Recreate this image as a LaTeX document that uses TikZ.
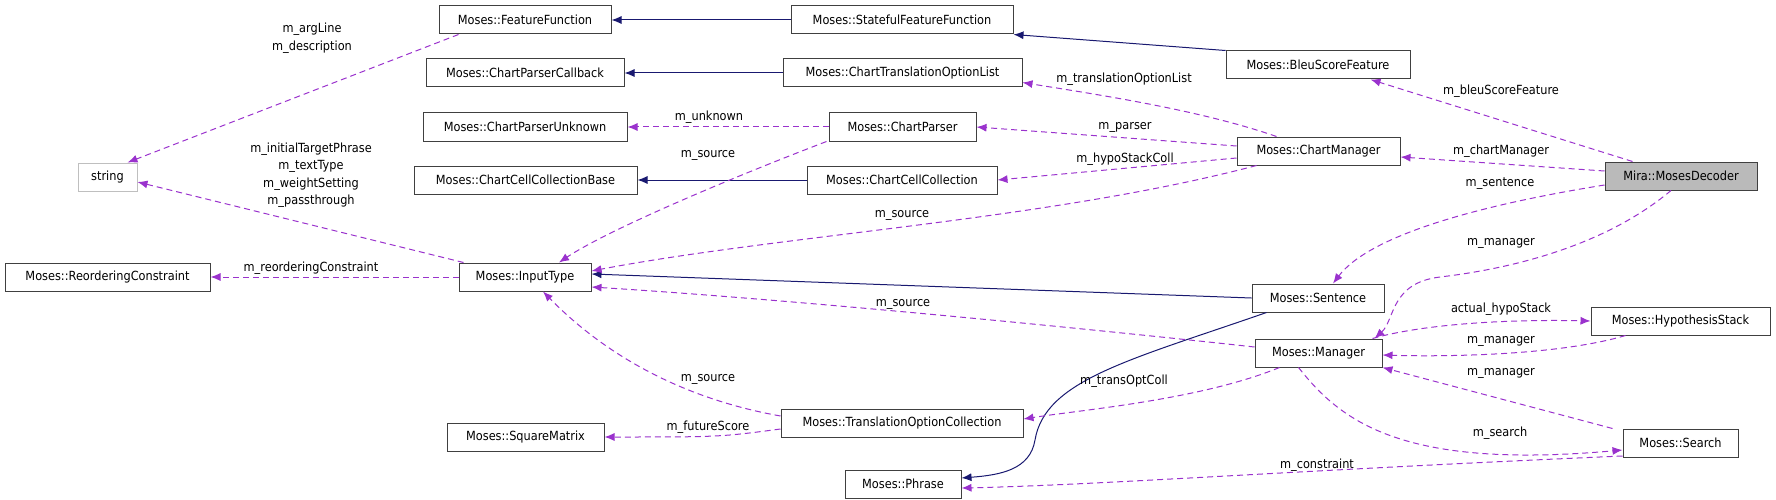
\documentclass[tikz,border=0pt]{standalone}
\usepackage{fontspec}
\setmainfont{DejaVu Sans}[FakeStretch=0.9]
\usetikzlibrary{arrows.meta,calc}
\definecolor{dep}{HTML}{9A32CD}
\definecolor{inh}{HTML}{191970}
\begin{document}
\begin{tikzpicture}[x=1pt,y=-1pt,
  box/.style={draw=black!75,line width=1pt,rectangle,inner sep=0pt,minimum height=28pt,font=\fontsize{12.6}{13}\selectfont},
  dep/.style={draw=dep,dashed,dash pattern=on 6pt off 4pt,line width=1pt,-{Latex[length=10pt,width=8pt]}},
  inh/.style={draw=inh,line width=1pt,-{Latex[length=10pt,width=8pt]}},
  lbl/.style={font=\fontsize{12.6}{17.5}\selectfont,align=center,inner sep=0pt}]
\useasboundingbox (0,0) rectangle (1776,500);
\newcommand{\bx}[5]{\node[box,minimum width=#4-#3] (#1) at ({(#3+#4)/2},#5) {#2};}
\bx{ff}{Moses::FeatureFunction}{439}{611}{20}
\bx{sff}{Moses::StatefulFeatureFunction}{791}{1013}{20}
\bx{cpc}{Moses::ChartParserCallback}{426}{624}{73}
\bx{ctol}{Moses::ChartTranslationOptionList}{783}{1022}{73}
\bx{cpu}{Moses::ChartParserUnknown}{423}{627}{127}
\bx{cp}{Moses::ChartParser}{829}{976}{127}
\bx{cccb}{Moses::ChartCellCollectionBase}{414}{637}{180}
\bx{ccc}{Moses::ChartCellCollection}{807}{997}{180}
\bx{bleu}{Moses::BleuScoreFeature}{1226}{1410}{65}
\bx{cm}{Moses::ChartManager}{1237}{1400}{151}
\node[box,draw=black!25,minimum width=59pt] (str) at (107.5,177) {string};
\bx{rc}{Moses::ReorderingConstraint}{5}{210}{277}
\bx{it}{Moses::InputType}{459}{591}{277}
\bx{sm}{Moses::SquareMatrix}{447}{604}{437}
\bx{toc}{Moses::TranslationOptionCollection}{781}{1023}{423}
\bx{sen}{Moses::Sentence}{1252}{1384}{298}
\bx{man}{Moses::Manager}{1255}{1382}{353}
\bx{hs}{Moses::HypothesisStack}{1591}{1770}{321}
\bx{se}{Moses::Search}{1623}{1738}{443}
\bx{ph}{Moses::Phrase}{845}{961}{484}
\node[box,fill=black!27,minimum width=152pt] (dec) at (1681,176) {Mira::MosesDecoder};

% inheritance
\draw[inh] (sff) -- (ff);
\draw[inh] (bleu.north west) -- (sff.south east);
\draw[inh] (ctol) -- (cpc);
\draw[inh] (ccc) -- (cccb);
\draw[inh] (sen.west) -- ($(it.east)+(0,-3)$);
\draw[inh] ($(sen.south west)+(15,0)$) .. controls (1130,360) and (1045,380) .. (1035,440) .. controls (1030,470) and (1000,475) .. ($(ph.east)+(0,-6)$);

% dependencies
\draw[dep] ($(ff.south west)+(20,0)$) -- ($(str.north east)+(-10,0)$);
\node[lbl] at (312,38) {m\_argLine\\m\_description};
\draw[dep] ($(it.north west)+(5,0)$) -- ($(str.east)+(0,5)$);
\node[lbl] at (311,175) {m\_initialTargetPhrase\\m\_textType\\m\_weightSetting\\m\_passthrough};
\draw[dep] (it) -- (rc);
\node[lbl] at (311,268) {m\_reorderingConstraint};
\draw[dep] (cp) -- (cpu);
\node[lbl] at (709,117) {m\_unknown};
\draw[dep] ($(cp.south west)+(-2,0)$) .. controls (700,190) and (600,235) .. ($(it.north)+(34,0)$);
\node[lbl] at (708,155) {m\_source};
\draw[dep] ($(cm.north west)+(40,0)$) .. controls (1200,110) and (1100,95) .. ($(ctol.south east)+(0,-5)$);
\node[lbl] at (1124,79) {m\_translationOptionList};
\draw[dep] ($(cm.west)+(0,-5)$) -- (cp.east);
\node[lbl] at (1125,127) {m\_parser};
\draw[dep] ($(cm.west)+(0,7)$) -- (ccc.east);
\node[lbl] at (1125,159) {m\_hypoStackColl};
\draw[dep] ($(cm.south west)+(20,0)$) .. controls (1050,220) and (780,235) .. ($(it.east)+(0,-6)$);
\node[lbl] at (902,215) {m\_source};
\draw[dep] ($(dec.north west)+(28,0)$) -- ($(bleu.south east)+(-40,0)$);
\node[lbl] at (1501,91) {m\_bleuScoreFeature};
\draw[dep] ($(dec.west)+(0,-5)$) -- ($(cm.east)+(0,6)$);
\node[lbl] at (1501,151) {m\_chartManager};
\draw[dep] ($(dec.west)+(0,9)$) .. controls (1480,205) and (1370,235) .. ($(sen.north)+(15,0)$);
\node[lbl] at (1500,184) {m\_sentence};
\draw[dep] ($(dec.south)+(-10,0)$) .. controls (1600,250) and (1500,270) .. (1440,277) .. controls (1390,283) and (1395,320) .. ($(man.north east)+(-8,0)$);
\node[lbl] at (1501,243) {m\_manager};
\draw[dep] ($(man.west)+(0,-6)$) .. controls (1100,330) and (800,300) .. ($(it.east)+(0,10)$);
\node[lbl] at (903,304) {m\_source};
\draw[dep] ($(man.north east)+(-10,0)$) .. controls (1420,325) and (1500,319) .. (hs.west);
\node[lbl] at (1501,309) {actual\_hypoStack};
\draw[dep] ($(hs.south west)+(35,0)$) .. controls (1560,355) and (1450,357) .. ($(man.east)+(0,2)$);
\node[lbl] at (1501,341) {m\_manager};
\draw[dep] ($(se.north west)+(-10,0)$) -- (man.south east);
\node[lbl] at (1501,373) {m\_manager};
\draw[dep] ($(man.south)+(-20,0)$) .. controls (1340,420) and (1400,470) .. ($(se.west)+(0,7)$);
\node[lbl] at (1500,433) {m\_search};
\draw[dep] ($(man.south west)+(25,0)$) .. controls (1200,400) and (1080,410) .. ($(toc.east)+(0,-4)$);
\node[lbl] at (1124,381) {m\_transOptColl};
\draw[dep] ($(toc.west)+(0,-7)$) .. controls (690,400) and (610,360) .. ($(it.south)+(18,0)$);
\node[lbl] at (708,379) {m\_source};
\draw[dep] ($(toc.west)+(0,6)$) .. controls (720,437) .. (sm.east);
\node[lbl] at (708,427) {m\_futureScore};
\draw[dep] ($(se.west)+(0,13)$) .. controls (1300,470) and (1100,485) .. ($(ph.east)+(0,4)$);
\node[lbl] at (1317,465) {m\_constraint};
\end{tikzpicture}
\end{document}
